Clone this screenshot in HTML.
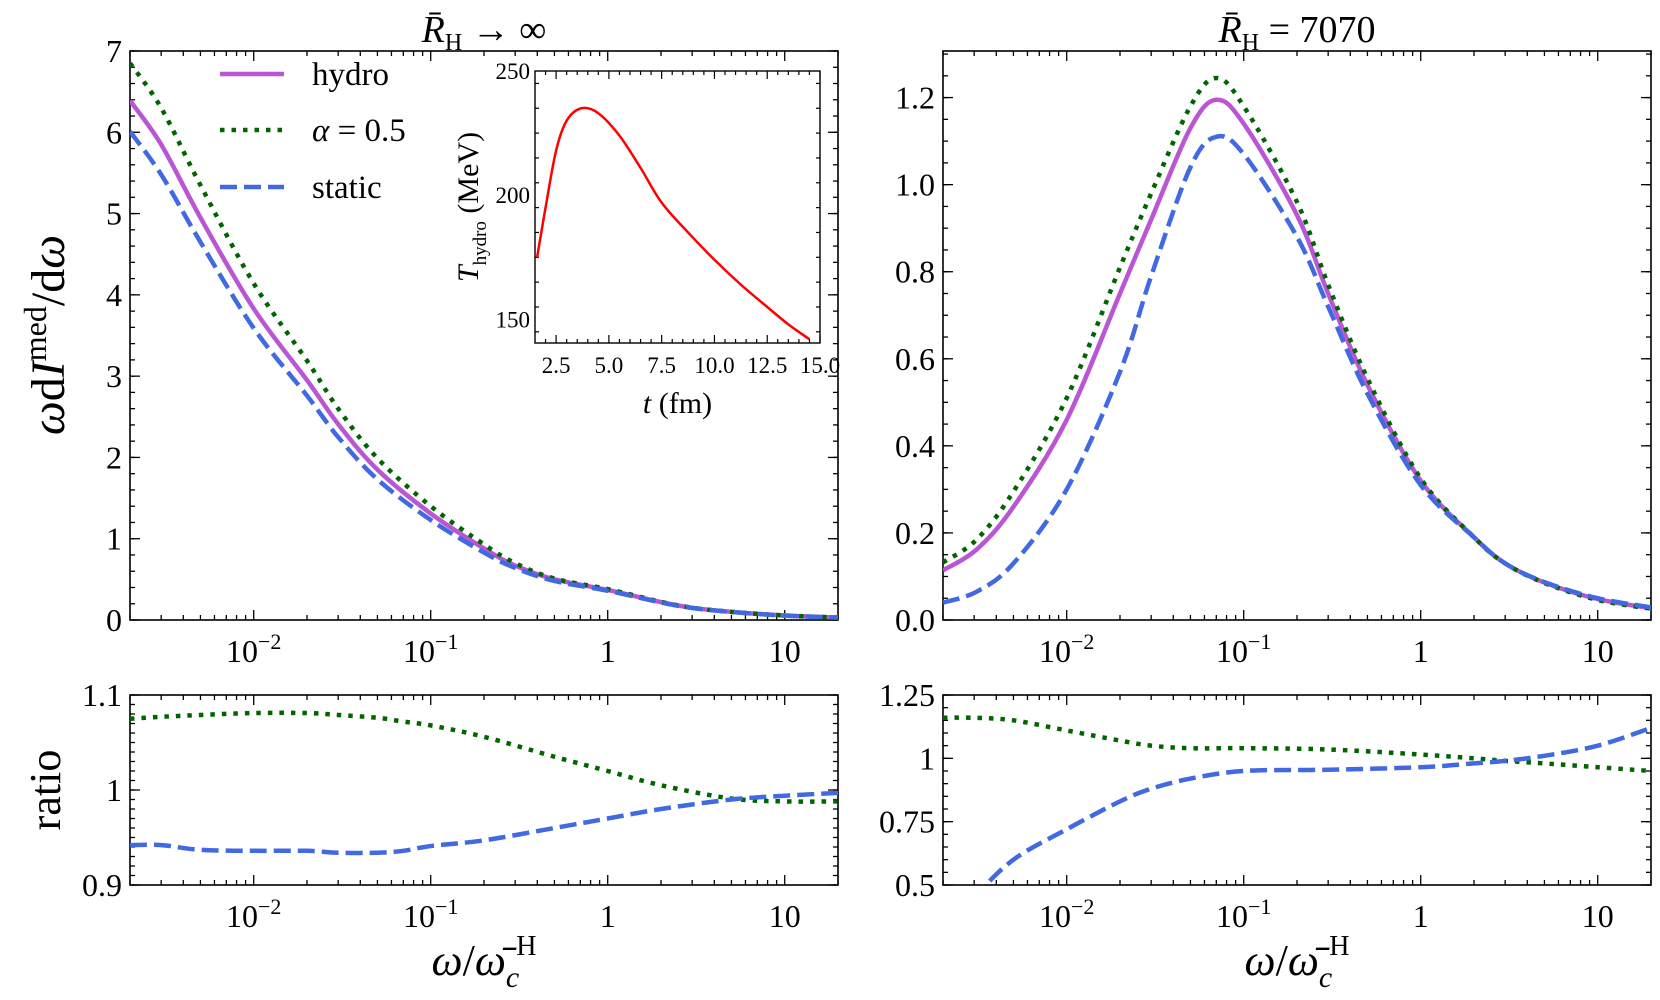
<!DOCTYPE html>
<html><head><meta charset="utf-8"><style>
body{margin:0;background:#fff}
svg{display:block;font-family:"Liberation Serif",serif}
</style></head><body>
<svg id="chart" width="1660" height="1000" viewBox="0 0 1660 1000" xmlns="http://www.w3.org/2000/svg"></svg>
<script>
// ---- data ----
const xTopLeft = [0.002,0.003,0.005,0.01,0.02,0.03,0.05,0.1,0.2,0.3,0.5,1,2,3,5,10,20];
const hydroLeft = [6.39,5.85,4.95,3.83,2.95,2.41,1.85,1.31,0.88,0.67,0.50,0.37,0.22,0.15,0.10,0.055,0.03];
const alphaLeft = [6.85,6.30,5.35,4.14,3.19,2.60,1.99,1.40,0.93,0.70,0.51,0.38,0.223,0.151,0.10,0.055,0.03];
const staticLeft = [6.01,5.48,4.65,3.59,2.76,2.25,1.73,1.23,0.83,0.64,0.48,0.36,0.215,0.148,0.099,0.054,0.03];

const xTopRight = [0.002,0.0031,0.005,0.01,0.02,0.03,0.05,0.07,0.1,0.2,0.3,0.5,1,2,3,5,10,20];
const hydroRight = [0.114,0.162,0.26,0.46,0.75,0.92,1.13,1.195,1.14,0.93,0.75,0.54,0.32,0.19,0.13,0.086,0.048,0.027];
const alphaRight = [0.132,0.185,0.295,0.51,0.81,0.98,1.18,1.245,1.18,0.96,0.77,0.555,0.325,0.19,0.13,0.085,0.046,0.026];
const staticRight = [0.04,0.065,0.13,0.3,0.57,0.79,1.04,1.11,1.07,0.88,0.72,0.52,0.31,0.19,0.13,0.087,0.05,0.029];

const xRatioLeft = [0.002,0.003,0.005,0.01,0.02,0.03,0.05,0.07,0.1,0.2,0.5,1,2,5,10,20];
const alphaRatioLeft = [1.075,1.077,1.079,1.081,1.081,1.079,1.076,1.072,1.068,1.056,1.035,1.020,1.005,0.991,0.988,0.988];
const staticRatioLeft = [0.942,0.942,0.937,0.936,0.936,0.934,0.934,0.936,0.941,0.947,0.960,0.970,0.980,0.990,0.994,0.997];

const xRatioRight = [0.002,0.003,0.005,0.01,0.02,0.03,0.05,0.1,0.3,1,2,3,5,10,20];
const alphaRatioRight = [1.16,1.16,1.15,1.11,1.07,1.05,1.04,1.04,1.035,1.015,1.0,0.99,0.98,0.965,0.95];
const staticRatioRight = [0.3,0.45,0.6,0.72,0.83,0.88,0.92,0.95,0.955,0.965,0.98,0.99,1.01,1.05,1.12];

const insetT = [1.6,2,2.5,3,3.7,4.5,5.5,6.5,7.5,8.75,10,11.25,12.5,13.5,14.5];
const insetTemp = [175,195,218,230,235,233,224,211,197,185,174,164,155,148,142];

const yTicksTL = [0,1,2,3,4,5,6,7];
const yTicksTR = [0,0.2,0.4,0.6,0.8,1.0,1.2];
const yTicksTRLabels = ["0.0","0.2","0.4","0.6","0.8","1.0","1.2"];
const yTicksBL = [0.9,1,1.1];
const yTicksBLLabels = ["0.9","1","1.1"];
const yTicksBR = [0.5,0.75,1,1.25];
const yTicksBRLabels = ["0.5","0.75","1","1.25"];
const xTickVals = [0.01,0.1,1,10];
const insetXTicks = [2.5,5,7.5,10,12.5,15];
const insetXLabels = ["2.5","5.0","7.5","10.0","12.5","15.0"];
const insetYTicks = [150,200,250];

// ---- helpers ----
const NS="http://www.w3.org/2000/svg";
const svg=document.getElementById('chart');
function mk(tag,attrs,parent){const e=document.createElementNS(NS,tag);for(const k in attrs)e.setAttribute(k,attrs[k]);(parent||svg).appendChild(e);return e;}
function logScale(d0,d1,r0,r1){return v=>r0+(Math.log10(v)-Math.log10(d0))/(Math.log10(d1)-Math.log10(d0))*(r1-r0);}
function linScale(d0,d1,r0,r1){return v=>r0+(v-d0)/(d1-d0)*(r1-r0);}
function smoothPath(pts){
 let d='M'+pts[0][0].toFixed(2)+','+pts[0][1].toFixed(2);
 for(let i=0;i<pts.length-1;i++){
  const p0=pts[Math.max(0,i-1)],p1=pts[i],p2=pts[i+1],p3=pts[Math.min(pts.length-1,i+2)];
  const c1=[p1[0]+(p2[0]-p0[0])/6,p1[1]+(p2[1]-p0[1])/6];
  const c2=[p2[0]-(p3[0]-p1[0])/6,p2[1]-(p3[1]-p1[1])/6];
  d+='C'+c1[0].toFixed(2)+','+c1[1].toFixed(2)+' '+c2[0].toFixed(2)+','+c2[1].toFixed(2)+' '+p2[0].toFixed(2)+','+p2[1].toFixed(2);
 }
 return d;
}

const styles={
 hydro:{stroke:'#BA55D3','stroke-width':4.5,fill:'none'},
 alpha:{stroke:'#006400','stroke-width':4.5,fill:'none','stroke-dasharray':'4.5 7'},
 static:{stroke:'#4169E1','stroke-width':4.5,fill:'none','stroke-dasharray':'17 7'}
};

function panel(name,x0,x1,y0,y1,ymin,ymax,yt,ytl,minorStep,xlabels){
 const g=mk('g',{});
 
 
 const sx=logScale(0.002,20,x0,x1), sy=linScale(ymin,ymax,y1,y0);
 const clipId='clip-'+name;
 const cp=mk('clipPath',{id:clipId},g); mk('rect',{x:x0,y:y0,width:x1-x0,height:y1-y0},cp);
 for(let e=-3;e<=1;e++)for(let m=1;m<10;m++){const v=m*Math.pow(10,e);if(v<0.002||v>20)continue;
  const X=sx(v),L=m===1?10:5;
  mk('line',{x1:X,x2:X,y1:y1,y2:y1-L,stroke:'#000','stroke-width':1.3},g);
  mk('line',{x1:X,x2:X,y1:y0,y2:y0+L,stroke:'#000','stroke-width':1.3},g);}
 if(xlabels){xTickVals.forEach(v=>{const t=mk('text',{x:sx(v),y:y1+42,'text-anchor':'middle','font-size':32},g);
  
  if(v<1){t.textContent='10';const s=mk('tspan',{dy:-13,'font-size':22},t);s.textContent=v===0.01?'−2':'−1';}
  else t.textContent=String(v);});}
 for(let v=ymin;v<=ymax+1e-9;v+=minorStep){const Y=sy(v);
  mk('line',{x1:x0,x2:x0+5,y1:Y,y2:Y,stroke:'#000','stroke-width':1.3},g);
  mk('line',{x1:x1,x2:x1-5,y1:Y,y2:Y,stroke:'#000','stroke-width':1.3},g);}
 yt.forEach((v,i)=>{const Y=sy(v);
  mk('line',{x1:x0,x2:x0+10,y1:Y,y2:Y,stroke:'#000','stroke-width':1.3},g);
  mk('line',{x1:x1,x2:x1-10,y1:Y,y2:Y,stroke:'#000','stroke-width':1.3},g);
  const t=mk('text',{x:x0-8,y:Y+11,'text-anchor':'end','font-size':32},g);
  
  t.textContent=ytl[i];});
 mk('rect',{x:x0,y:y0,width:x1-x0,height:y1-y0,fill:'none',stroke:'#000','stroke-width':1.6},g);
 return {g,sx,sy,clipId};
}
function series(p,xs,ys,style,name){
 const d=smoothPath(xs.map((x,i)=>[p.sx(x),p.sy(ys[i])]));
 const path=mk('path',Object.assign({d,'clip-path':'url(#'+p.clipId+')','stroke-linejoin':'round'},styles[style]),p.g);
 
 
}

const tl=panel('main-panel-infinite',130,838,51,620,0,7,yTicksTL,yTicksTL.map(String),0.2,true);
series(tl,xTopLeft,hydroLeft,'hydro','hydro-line-left');
series(tl,xTopLeft,alphaLeft,'alpha','alpha-line-left');
series(tl,xTopLeft,staticLeft,'static','static-line-left');

const tr=panel('main-panel-7070',943,1651,51,620,0,1.307,yTicksTR,yTicksTRLabels,0.05,true);
series(tr,xTopRight,hydroRight,'hydro','hydro-line-right');
series(tr,xTopRight,alphaRight,'alpha','alpha-line-right');
series(tr,xTopRight,staticRight,'static','static-line-right');

const bl=panel('ratio-panel-infinite',130,838,695,885,0.9,1.1,yTicksBL,yTicksBLLabels,0.01,true);
series(bl,xRatioLeft,alphaRatioLeft,'alpha','alpha-ratio-left');
series(bl,xRatioLeft,staticRatioLeft,'static','static-ratio-left');

const br=panel('ratio-panel-7070',943,1651,695,885,0.5,1.25,yTicksBR,yTicksBRLabels,0.05,true);
series(br,xRatioRight,alphaRatioRight,'alpha','alpha-ratio-right');
series(br,xRatioRight,staticRatioRight,'static','static-ratio-right');

(function(){
 const g=mk('g',{});
 
 
 const x0=535,x1=820,y0=71,y1=343;
 const sx=linScale(1.5,15,x0,x1), sy=linScale(140.5,250,y1,y0);
 for(let v=2;v<=15;v+=0.5){const X=sx(v),L=(v%2.5===0)?8:4;
  mk('line',{x1:X,x2:X,y1:y1,y2:y1-L,stroke:'#000','stroke-width':1.2},g);
  mk('line',{x1:X,x2:X,y1:y0,y2:y0+L,stroke:'#000','stroke-width':1.2},g);}
 for(let v=145;v<=250;v+=10){const Y=sy(v),L=(v%50===0)?8:4;
  mk('line',{x1:x0,x2:x0+L,y1:Y,y2:Y,stroke:'#000','stroke-width':1.2},g);
  mk('line',{x1:x1,x2:x1-L,y1:Y,y2:Y,stroke:'#000','stroke-width':1.2},g);}
 insetXTicks.forEach((v,i)=>{const t=mk('text',{x:sx(v),y:y1+30,'text-anchor':'middle','font-size':23},g);
  t.textContent=insetXLabels[i];});
 insetYTicks.forEach(v=>{const t=mk('text',{x:x0-5,y:sy(v)+8,'text-anchor':'end','font-size':23},g);
  t.textContent=String(v);});
 const d=smoothPath(insetT.map((x,i)=>[sx(x),sy(insetTemp[i])]));
 const p=mk('path',{d,stroke:'#ff0000','stroke-width':2.5,fill:'none'},g);
 
 
 mk('rect',{x:x0,y:y0,width:x1-x0,height:y1-y0,fill:'none',stroke:'#000','stroke-width':1.4},g);
 const xt=mk('text',{x:(x0+x1)/2,y:y1+70,'text-anchor':'middle','font-size':30},g);
 
 xt.innerHTML='<tspan font-style="italic">t</tspan> (fm)';
 const yt=mk('text',{transform:'translate(478,207) rotate(-90)','text-anchor':'middle','font-size':30},g);
 
 yt.innerHTML='<tspan font-style="italic">T</tspan><tspan font-size="19" dy="8">hydro</tspan><tspan dy="-8"> (MeV)</tspan>';
})();

(function(){
 const g=mk('g',{});
 
 
 const items=[['hydro','hydro',74],['alpha','α = 0.5',130],['static','static',187]];
 items.forEach(([s,label,y])=>{
  const l=mk('line',Object.assign({x1:220,x2:284,y1:y,y2:y},styles[s]),g);
  
  const t=mk('text',{x:312,y:y+11,'font-size':33},g);
  
  if(s==='alpha'){t.innerHTML='<tspan font-style="italic">α</tspan> = 0.5';}else t.textContent=label;
 });
})();

function txt(name,attrs,html){const t=mk('text',attrs);t.innerHTML=html;return t;}
txt('title-left',{x:484,y:42,'text-anchor':'middle','font-size':38},'<tspan font-style="italic">R̄</tspan><tspan font-size="24" dy="8">H</tspan><tspan dy="-8"> → ∞</tspan>');
txt('title-right',{x:1297,y:42,'text-anchor':'middle','font-size':38},'<tspan font-style="italic">R̄</tspan><tspan font-size="24" dy="8">H</tspan><tspan dy="-8"> = 7070</tspan>');
txt('y-axis-title',{transform:'translate(64,335) rotate(-90)','text-anchor':'middle','font-size':48},'<tspan font-style="italic">ω</tspan>d<tspan font-style="italic">I</tspan><tspan font-size="32" dy="-18">med</tspan><tspan dy="18">/d</tspan><tspan font-style="italic">ω</tspan>');
txt('ratio-axis-title',{transform:'translate(60,790) rotate(-90)','text-anchor':'middle','font-size':44},'ratio');
txt('x-axis-title-left',{x:484,y:975,'text-anchor':'middle','font-size':44},'<tspan font-style="italic">ω</tspan>/<tspan font-style="italic">ω̄</tspan><tspan font-size="30" dy="12" font-style="italic">c</tspan><tspan font-size="28" dy="-32" dx="-3">H</tspan>');
txt('x-axis-title-right',{x:1297,y:975,'text-anchor':'middle','font-size':44},'<tspan font-style="italic">ω</tspan>/<tspan font-style="italic">ω̄</tspan><tspan font-size="30" dy="12" font-style="italic">c</tspan><tspan font-size="28" dy="-32" dx="-3">H</tspan>');
</script>
</body></html>
